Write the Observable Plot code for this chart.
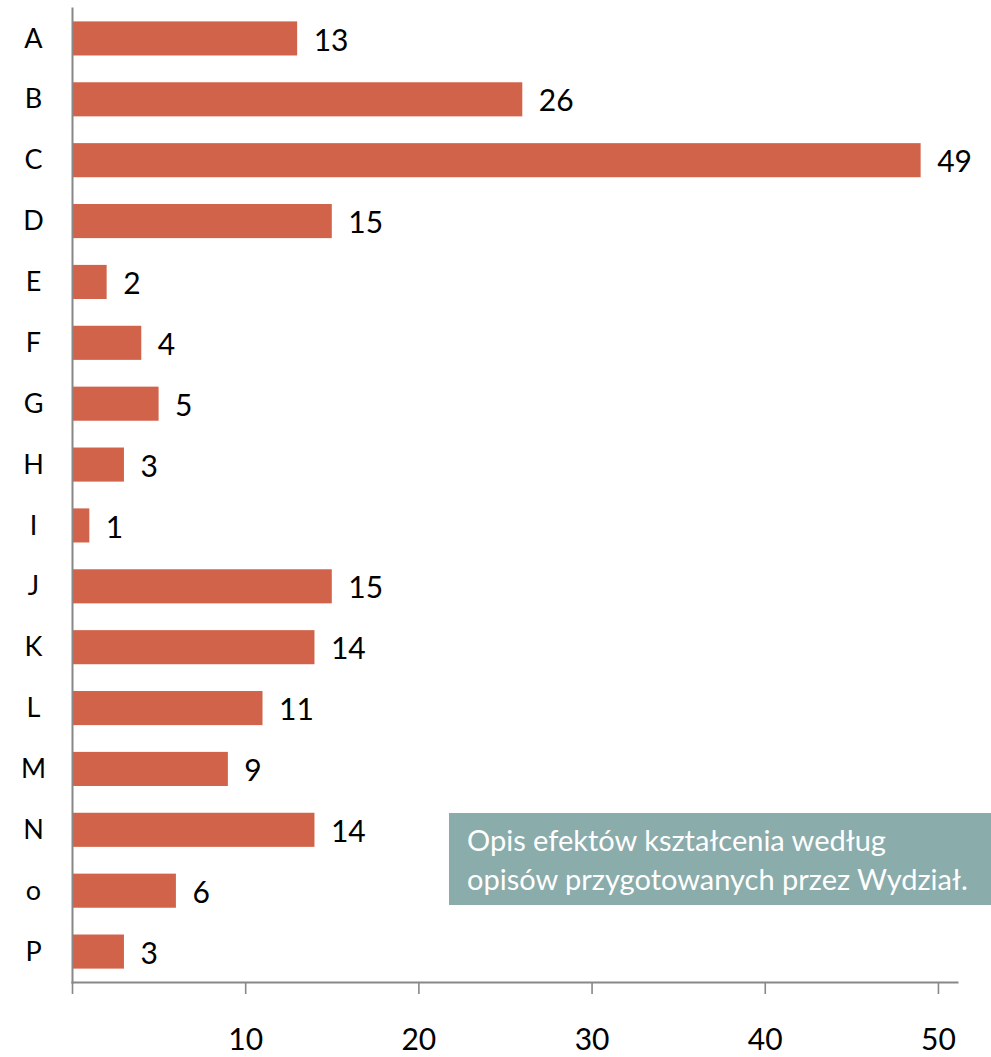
<!DOCTYPE html>
<html>
<head>
<meta charset="utf-8">
<script src="https://cdn.jsdelivr.net/npm/d3@7"></script>
<script src="https://cdn.jsdelivr.net/npm/@observablehq/plot@0.6"></script>
<style>
  html, body { margin: 0; padding: 0; background: #fff; }
  #wrap { position: relative; width: 991px; height: 1057px; font-family: Lato, "Open Sans", sans-serif; }
  #note { position: absolute; left: 449px; top: 813px; width: 542px; height: 92px; background: #8aacab;
    color: #fff; font-size: 29px; line-height: 39px; box-sizing: border-box; padding: 7px 0 0 18px; font-family: Lato, sans-serif; white-space: nowrap; }
</style>
</head>
<body>
<div id="wrap"></div>
<script>
const categories = ["A","B","C","D","E","F","G","H","I","J","K","L","M","N","o","P"];
const values = [13,26,49,15,2,4,5,3,1,15,14,11,9,14,6,3];
const xTicks = [0,10,20,30,40,50];
const noteLines = ["Opis efektów kształcenia według", "opisów przygotowanych przez Wydział."];

const data = categories.map((c, i) => ({cat: c, val: values[i]}));

const chart = Plot.plot({
  width: 991,
  height: 1057,
  marginLeft: 72,
  marginRight: 34,
  marginTop: 8,
  marginBottom: 75,
  style: {fontFamily: "Lato, 'Open Sans', sans-serif", background: "#fff"},
  x: {domain: [0, 51.1], ticks: xTicks},
  y: {domain: categories, paddingInner: 0.44, paddingOuter: 0.22, round: false, axis: null},
  marks: [
    Plot.barX(data, {x: "val", y: "cat", fill: "#d1634a"}),
    Plot.text(data, {x: "val", y: "cat", text: d => String(d.val), textAnchor: "start", dx: 16, dy: 2, fontSize: 30, fill: "#000"}),
    Plot.text(data, {y: "cat", text: "cat", frameAnchor: "left", dx: -39, textAnchor: "middle", fontSize: 27, fill: "#000"}),
    Plot.axisX({ticks: xTicks, tickSize: 12, tickPadding: 34, fontSize: 30, stroke: "#888", strokeWidth: 1.6, fill: "#000", label: null, tickFormat: d => d === 0 ? "" : String(d)}),
    Plot.frame({anchor: "left", stroke: "#888", strokeWidth: 2}),
    Plot.frame({anchor: "bottom", stroke: "#888", strokeWidth: 2})
  ]
});
document.getElementById("wrap").appendChild(chart);
const note = document.createElement("div");
note.id = "note";
note.innerHTML = noteLines.join("<br>");
document.getElementById("wrap").appendChild(note);
</script>
</body>
</html>
